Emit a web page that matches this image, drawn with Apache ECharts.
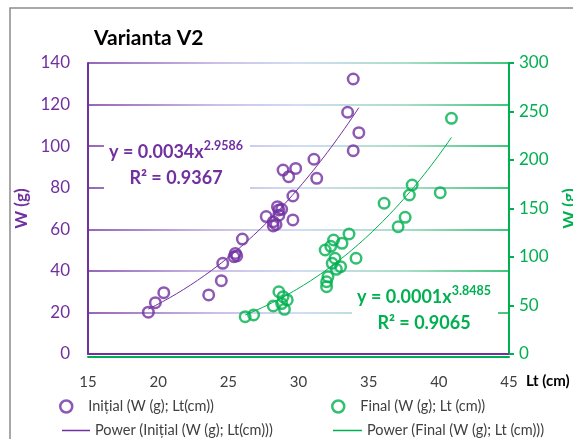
<!DOCTYPE html>
<html>
<head>
<meta charset="utf-8">
<script src="https://cdn.jsdelivr.net/npm/echarts@6/dist/echarts.min.js"></script>
<style>
  html, body { margin: 0; padding: 0; background: #fff; }
  #chart { width: 573px; height: 439px; }
</style>
</head>
<body>
<div id="chart"></div>
<script>
// Fish length (cm) and weight (g), initial sampling
const lengthInitial = [19.3, 19.8, 20.4, 23.6, 24.5, 24.6, 25.4, 25.5, 25.6, 26.0, 27.7, 28.2, 28.2, 28.4, 28.5, 28.6, 28.8, 28.6, 29.6, 29.6, 28.9, 29.3, 29.8, 31.1, 31.3, 33.9, 34.3, 33.5, 33.9];
const weightInitial = [20.1, 24.7, 29.5, 28.4, 35.3, 43.6, 46.8, 48.4, 47.2, 55.3, 66.1, 63.6, 61.6, 62.3, 70.9, 69.3, 69.6, 66.8, 64.5, 76.0, 88.5, 85.3, 89.3, 93.7, 84.5, 97.8, 106.5, 116.3, 132.3];

// Final sampling (weights on the secondary axis)
const lengthFinal = [26.2, 26.8, 28.2, 28.6, 28.9, 29.2, 29.0, 28.8, 32.0, 32.0, 32.1, 31.9, 32.5, 33.6, 33.1, 32.6, 32.4, 33.0, 32.7, 34.1, 32.3, 36.1, 37.1, 37.6, 37.9, 38.1, 40.1, 40.9];
const weightFinal = [38.5, 40.2, 49.5, 64.2, 59.1, 55.7, 46.1, 52.0, 69.4, 74.5, 79.7, 107.2, 117.5, 123.7, 114.1, 98.7, 93.5, 90.0, 87.3, 98.7, 111.0, 155.4, 131.2, 140.9, 163.9, 174.2, 166.3, 243.0];

// Power trendlines W = a * Lt^b (label shows a rounded to 4 decimals)
const trendInitial = { a: 0.0034, b: 2.9586, r2: 0.9367 };
const trendFinal = { a: 0.00014, b: 3.8485, r2: 0.9065 };

// Axis ranges
const xRange = { min: 15, max: 45, step: 5 };
const yLeftRange = { min: 0, max: 140, step: 20 };
const yRightRange = { min: 0, max: 300, step: 50 };

const nameInitial = 'Ini\u021Bial (W (g); Lt(cm))';
const nameFinal = 'Final (W (g); Lt (cm))';
const namePowInitial = 'Power (Ini\u021Bial (W (g); Lt(cm)))';
const namePowFinal = 'Power (Final (W (g); Lt (cm)))';

const PURPLE = '#7030A0';
const GREEN = '#00B050';
const FONT = 'Lato';

function pairs(xs, ys) { return xs.map((x, i) => [x, ys[i]]); }
function trendPoints(xs, t) {
  const lo = Math.min(...xs), hi = Math.max(...xs), pts = [];
  for (let i = 0; i <= 60; i++) {
    const x = lo + (hi - lo) * i / 60;
    pts.push([x, t.a * Math.pow(x, t.b)]);
  }
  return pts;
}
function eqLabel(t) {
  return '{m|y = ' + t.a.toFixed(4) + 'x}{s|' + t.b.toFixed(4) + '}\n{m|R\u00B2 = ' + t.r2.toFixed(4) + '}';
}
function richFor(color) {
  return {
    m: { fontSize: 18, fontWeight: 'bold', fontFamily: FONT, lineHeight: 26, fill: color },
    s: { fontSize: 12.5, fontWeight: 'bold', fontFamily: FONT, lineHeight: 15, verticalAlign: 'top', fill: color }
  };
}

const gridColor = new echarts.graphic.LinearGradient(0, 0, 1, 0, [
  { offset: 0, color: PURPLE },
  { offset: 0.3, color: '#b9a8de' },
  { offset: 0.5, color: '#c3d2ef' },
  { offset: 0.75, color: '#8fd3b6' },
  { offset: 1, color: GREEN }
]);

const legendText = { fontFamily: FONT, fontSize: 14.5, color: '#404040' };

const chart = echarts.init(document.getElementById('chart'), null, { renderer: 'canvas' });
chart.setOption({
  animation: false,
  backgroundColor: '#fff',
  textStyle: { fontFamily: FONT },
  title: {
    text: 'Varianta V2', left: 89, top: 23,
    textStyle: { fontFamily: FONT, fontSize: 21, fontWeight: 'bold', color: '#000' }
  },
  grid: { left: 88, right: 64, top: 63, bottom: 85, outerBoundsMode: 'none' },
  xAxis: [{
    type: 'value', min: xRange.min, max: xRange.max, interval: xRange.step,
    axisLine: { show: true, onZero: false, lineStyle: { color: PURPLE, width: 2 } },
    axisTick: { show: false },
    splitLine: { show: false },
    axisLabel: { margin: 21, fontSize: 15, color: '#404040', fontFamily: FONT },
    name: '\nLt (cm)', nameLocation: 'end', nameGap: 17, nameMoveOverlap: false,
    nameTextStyle: { fontFamily: FONT, fontWeight: 'bold', fontSize: 15, color: '#000', lineHeight: 54 }
  }, {
    type: 'value', min: xRange.min, max: xRange.max, interval: xRange.step,
    position: 'bottom', offset: 2.5,
    axisLine: { show: true, onZero: false, lineStyle: { color: GREEN, width: 2 } },
    axisTick: { show: false }, axisLabel: { show: false }, splitLine: { show: false }
  }],
  yAxis: [{
    type: 'value', min: yLeftRange.min, max: yLeftRange.max, interval: yLeftRange.step, position: 'left',
    axisLine: { show: true, lineStyle: { color: PURPLE, width: 2 } },
    axisTick: { show: false },
    axisLabel: { margin: 18, fontSize: 17, color: PURPLE, fontFamily: FONT },
    splitLine: { show: true, lineStyle: { color: gridColor, width: 1.5 } },
    name: 'W (g)', nameLocation: 'middle', nameGap: 54,
    nameTextStyle: { fontFamily: FONT, fontWeight: 'bold', fontSize: 17, color: PURPLE }
  }, {
    type: 'value', min: yRightRange.min, max: yRightRange.max, interval: yRightRange.step, position: 'right',
    axisLine: { show: true, lineStyle: { color: GREEN, width: 2 } },
    axisTick: { show: true, inside: false, length: 5, lineStyle: { color: GREEN, width: 2 } },
    axisLabel: { margin: 10, fontSize: 17, color: GREEN, fontFamily: FONT },
    splitLine: { show: false },
    name: 'W (g)', nameLocation: 'middle', nameGap: 52,
    nameTextStyle: { fontFamily: FONT, fontWeight: 'bold', fontSize: 17, color: GREEN }
  }],
  legend: [{
    left: 59, top: 399, padding: 0, itemWidth: 34, itemHeight: 12, textStyle: legendText, selectedMode: false,
    data: [{ name: nameInitial, icon: 'circle', itemStyle: { color: 'rgba(0,0,0,0)', borderColor: PURPLE, borderWidth: 2.5 } }]
  }, {
    left: 331, top: 399, padding: 0, itemWidth: 34, itemHeight: 12, textStyle: legendText, selectedMode: false,
    data: [{ name: nameFinal, icon: 'circle', itemStyle: { color: 'rgba(0,0,0,0)', borderColor: GREEN, borderWidth: 2.5 } }]
  }, {
    left: 62, top: 423, padding: 0, itemWidth: 28, itemHeight: 1.5, textStyle: legendText, selectedMode: false,
    data: [{ name: namePowInitial, icon: 'rect', itemStyle: { color: PURPLE } }]
  }, {
    left: 333, top: 423, padding: 0, itemWidth: 29, itemHeight: 1.5, textStyle: legendText, selectedMode: false,
    data: [{ name: namePowFinal, icon: 'rect', itemStyle: { color: GREEN } }]
  }],
  series: [{
    name: namePowInitial, type: 'line', xAxisIndex: 0, yAxisIndex: 0,
    data: trendPoints(lengthInitial, trendInitial), showSymbol: false, symbol: 'none', silent: true, z: 1,
    lineStyle: { color: PURPLE, width: 1 }, itemStyle: { color: PURPLE }
  }, {
    name: namePowFinal, type: 'line', xAxisIndex: 0, yAxisIndex: 1,
    data: trendPoints(lengthFinal, trendFinal), showSymbol: false, symbol: 'none', silent: true, z: 1,
    lineStyle: { color: GREEN, width: 1 }, itemStyle: { color: GREEN }
  }, {
    name: nameInitial, type: 'scatter', xAxisIndex: 0, yAxisIndex: 0,
    data: pairs(lengthInitial, weightInitial), symbol: 'circle', symbolSize: 10.5, z: 3,
    itemStyle: { color: 'rgba(0,0,0,0)', borderColor: PURPLE, borderWidth: 2.5 }
  }, {
    name: nameFinal, type: 'scatter', xAxisIndex: 0, yAxisIndex: 1,
    data: pairs(lengthFinal, weightFinal), symbol: 'circle', symbolSize: 10.5, z: 3,
    itemStyle: { color: 'rgba(0,0,0,0)', borderColor: GREEN, borderWidth: 2.5 }
  }],
  graphic: [
    { type: 'rect', silent: true, z: -10, shape: { x: 10, y: 8, width: 700, height: 600 },
      style: { fill: 'none', stroke: '#8c8c8c', lineWidth: 1.5 } },
    { type: 'rect', silent: true, z: 10, shape: { x: 104, y: 138, width: 146, height: 58 }, style: { fill: '#fff' } },
    { type: 'text', silent: true, z: 11, x: 176, y: 139,
      style: { text: eqLabel(trendInitial), align: 'center', verticalAlign: 'top', rich: richFor(PURPLE) } },
    { type: 'rect', silent: true, z: 10, shape: { x: 352, y: 283, width: 146, height: 56 }, style: { fill: '#fff' } },
    { type: 'text', silent: true, z: 11, x: 424, y: 284,
      style: { text: eqLabel(trendFinal), align: 'center', verticalAlign: 'top', rich: richFor(GREEN) } }
  ]
});
</script>
</body>
</html>
